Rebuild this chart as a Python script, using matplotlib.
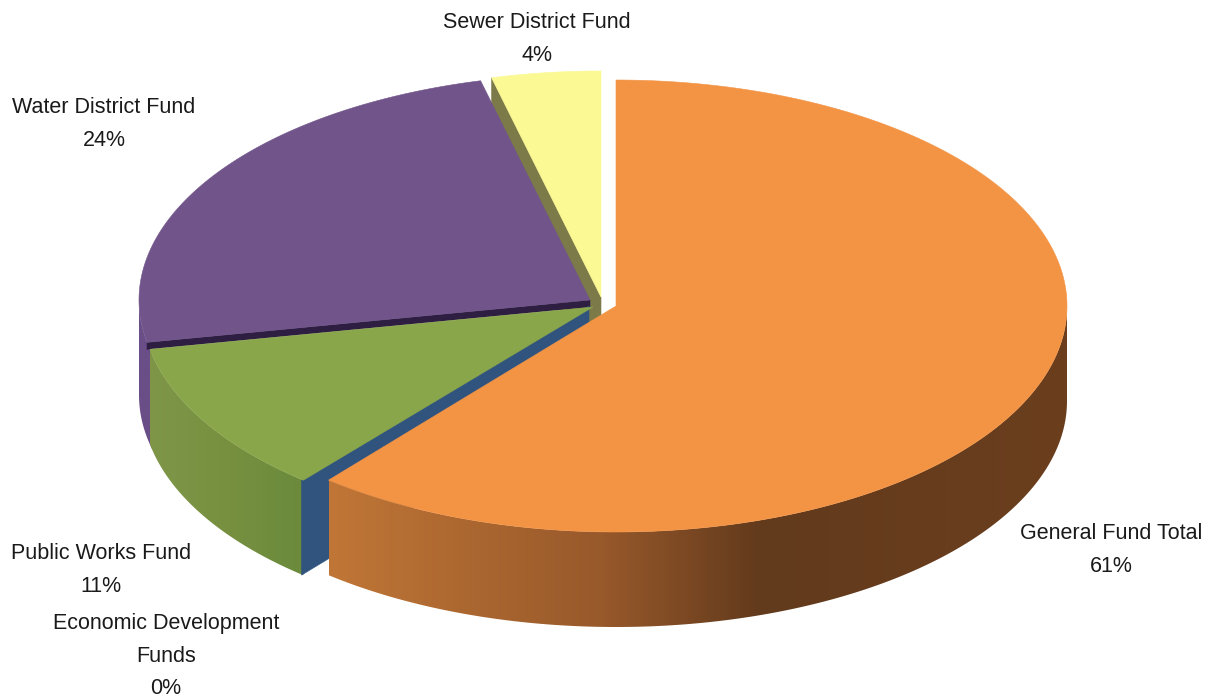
# budget_pie.py

from itertools import count

import numpy as np
import matplotlib
matplotlib.use("Agg")
import matplotlib.pyplot as plt
from matplotlib.colors import to_rgb
from matplotlib.patches import Polygon

categories = [
    "General Fund Total",
    "Economic Development\nFunds",
    "Public Works Fund",
    "Water District Fund",
    "Sewer District Fund",
]
shares = [61.0, 0.1, 10.9, 24.1, 3.9]

# Pie geometry in pixels
RX = 451
RY = 226
DEPTH = 95

# Centre of every slice once pulled out of the pie
centers = [(616, 306), (589, 306), (593, 307), (590, 300), (601, 297)]
label_centers = [(1111, 550), (166, 656), (101, 570), (104, 124), (537, 39)]

TOP_COLORS = ["#F39445", "#31547F", "#8AA64B", "#71558A", "#FBF993"]
CUT_COLORS = [None, "#31547F", None, "#2E1E42", "#7C7A48"]

# Images default to a lower zorder than patches, so stack everything by hand
layer = count(1)


def rim(center, start, stop, n=200):
    """Points on the slice edge, angles in degrees clockwise from the top."""
    t = np.radians(np.linspace(start, stop, n))
    return np.column_stack(
        (center[0] + RX * np.sin(t), center[1] - RY * np.cos(t))
    )


def draw_top(ax, center, start, stop, color):
    pts = np.vstack(([center], rim(center, start, stop)))
    ax.add_patch(
        Polygon(pts, closed=True, fc=color, ec=color, lw=0.4, zorder=next(layer))
    )


def draw_cut(ax, center, angle, color, depth=DEPTH):
    """Flat side of a slice along one radius."""
    p = rim(center, angle, angle, 1)[0]
    pts = [center, p, (p[0], p[1] + depth), (center[0], center[1] + depth)]
    ax.add_patch(
        Polygon(pts, closed=True, fc=color, ec=color, lw=0.4, zorder=next(layer))
    )


def draw_wall(ax, center, start, stop, stops):
    """Curved outer side, shaded left to right through the given colours."""
    edge = rim(center, start, stop)
    pts = np.vstack((edge, edge[::-1] + [0, DEPTH]))
    patch = Polygon(pts, closed=True, fc="none", ec="none")
    ax.add_patch(patch)

    x0, x1 = pts[:, 0].min(), pts[:, 0].max()
    y0, y1 = pts[:, 1].min(), pts[:, 1].max()
    xs = np.linspace(x0, x1, 512)
    pos = [s[0] for s in stops]
    rgb = np.array([to_rgb(s[1]) for s in stops])
    shade = np.stack([np.interp(xs, pos, rgb[:, i]) for i in range(3)], axis=1)
    img = ax.imshow(
        shade[np.newaxis, :, :],
        extent=(x0, x1, y1, y0),
        aspect="auto",
        interpolation="bilinear",
        zorder=next(layer),
    )
    img.set_clip_path(patch)


def main():
    fig = plt.figure(figsize=(12.15, 6.98), dpi=100)
    ax = fig.add_axes([0, 0, 1, 1])

    # Slice limits, running clockwise from twelve o'clock
    edges = np.concatenate(([0], np.cumsum(shares))) / sum(shares) * 360
    angles = list(zip(edges[:-1], edges[1:]))
    orange, econ, green, purple, yellow = range(5)

    # Back to front so the nearer slices cover the farther ones
    draw_cut(ax, centers[yellow], angles[yellow][0], CUT_COLORS[yellow])
    draw_top(ax, centers[yellow], *angles[yellow], TOP_COLORS[yellow])

    # Run the wall a little under the green slice so no gap opens between them
    draw_wall(
        ax, centers[purple], angles[purple][0] - 3, 270,
        [(130, "#6A4E88"), (160, "#6A4E88")],
    )
    # Only a thin dark strip of this side shows above the green slice
    draw_cut(ax, centers[purple], angles[purple][0], CUT_COLORS[purple], depth=7)
    draw_top(ax, centers[purple], *angles[purple], TOP_COLORS[purple])

    draw_wall(
        ax, centers[green], angles[green][0], angles[green][1],
        [(148, "#7F9649"), (230, "#76903F"), (306, "#6A8A3C")],
    )
    draw_cut(ax, centers[econ], angles[econ][0], CUT_COLORS[econ])
    draw_top(ax, centers[green], *angles[green], TOP_COLORS[green])

    draw_wall(
        ax, centers[orange], 90, angles[orange][1],
        [
            (328, "#C07636"),
            (600, "#98592B"),
            (760, "#623A1C"),
            (1067, "#6B3F1E"),
        ],
    )
    draw_top(ax, centers[orange], *angles[orange], TOP_COLORS[orange])

    # One label per slice, name above the rounded percentage
    for name, share, (x, y) in zip(categories, shares, label_centers):
        ax.text(
            x, y, f"{name}\n{share:.0f}%",
            ha="center", va="center", ma="center",
            fontsize=15.5, family="Liberation Sans",
            color="#1A1A1A", linespacing=1.7, zorder=next(layer),
        )

    ax.set_xlim(0, 1215)
    ax.set_ylim(698, 0)
    ax.axis("off")

    fig.savefig("out.png", dpi=100)


if __name__ == "__main__":
    main()
